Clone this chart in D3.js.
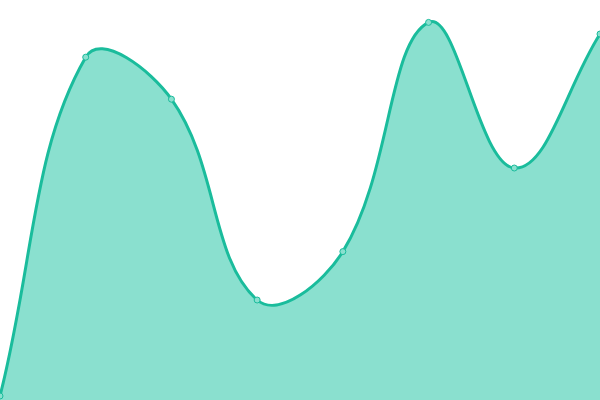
<!DOCTYPE html>
<html>
<head>
<meta charset="utf-8">
<script src="https://cdn.jsdelivr.net/npm/d3@7"></script>
<style>
  body { margin: 0; background: #fff; }
  svg { display: block; }
</style>
</head>
<body>
<div id="chart"></div>
<script>
var width = 600, height = 400;

// series (0..100 scale)
var labels = ["A", "B", "C", "D", "E", "F", "G", "H"];
var values = [1, 85.7, 75.2, 25, 37.1, 94.4, 58, 91.5];

var data = labels.map(function(l, i) { return { label: l, value: values[i] }; });

// spline with tension 0.4, control points weighted by segment length
function TensionSpline(context) { this._context = context; }
TensionSpline.prototype = {
  areaStart: function() { this._line = 0; },
  areaEnd: function() { this._line = NaN; },
  lineStart: function() { this._x = []; this._y = []; },
  point: function(x, y) { this._x.push(+x); this._y.push(+y); },
  lineEnd: function() {
    var x = this._x, y = this._y, n = x.length, t = 0.4, i;
    if (n) {
      this._line ? this._context.lineTo(x[0], y[0]) : this._context.moveTo(x[0], y[0]);
      var cp = [];
      for (i = 0; i < n; i++) {
        var px = x[Math.max(i - 1, 0)], py = y[Math.max(i - 1, 0)];
        var nx = x[Math.min(i + 1, n - 1)], ny = y[Math.min(i + 1, n - 1)];
        var d01 = Math.hypot(x[i] - px, y[i] - py);
        var d12 = Math.hypot(nx - x[i], ny - y[i]);
        var s01 = d01 / (d01 + d12) || 0, s12 = d12 / (d01 + d12) || 0;
        var fa = t * s01, fb = t * s12;
        cp.push({
          px: x[i] - fa * (nx - px), py: y[i] - fa * (ny - py),
          nx: x[i] + fb * (nx - px), ny: y[i] + fb * (ny - py)
        });
      }
      for (i = 1; i < n; i++) {
        this._context.bezierCurveTo(cp[i - 1].nx, cp[i - 1].ny, cp[i].px, cp[i].py, x[i], y[i]);
      }
    }
    if (this._line || (this._line !== 0 && n === 1)) this._context.closePath();
    this._line = 1 - this._line;
  }
};
var curveTension = function(context) { return new TensionSpline(context); };

var svg = d3.select("#chart").append("svg")
    .attr("width", width).attr("height", height);

var xScale = d3.scalePoint().domain(labels).range([0, width]);
var yScale = d3.scaleLinear().domain([0, 100]).range([height, 0]);

var area = d3.area()
    .x(function(d) { return xScale(d.label); })
    .y0(height)
    .y1(function(d) { return yScale(d.value); })
    .curve(curveTension);

var line = d3.line()
    .x(function(d) { return xScale(d.label); })
    .y(function(d) { return yScale(d.value); })
    .curve(curveTension);

svg.append("path").datum(data)
    .attr("d", area)
    .attr("fill", "#8ae0cf");

svg.append("path").datum(data)
    .attr("d", line)
    .attr("fill", "none")
    .attr("stroke", "#1abc9c")
    .attr("stroke-width", 3);

svg.selectAll(".dot").data(data).enter().append("circle")
    .attr("class", "dot")
    .attr("cx", function(d) { return xScale(d.label); })
    .attr("cy", function(d) { return yScale(d.value); })
    .attr("r", 3)
    .attr("fill", "#8ae0cf")
    .attr("stroke", "#1abc9c")
    .attr("stroke-width", 1);
</script>
</body>
</html>
